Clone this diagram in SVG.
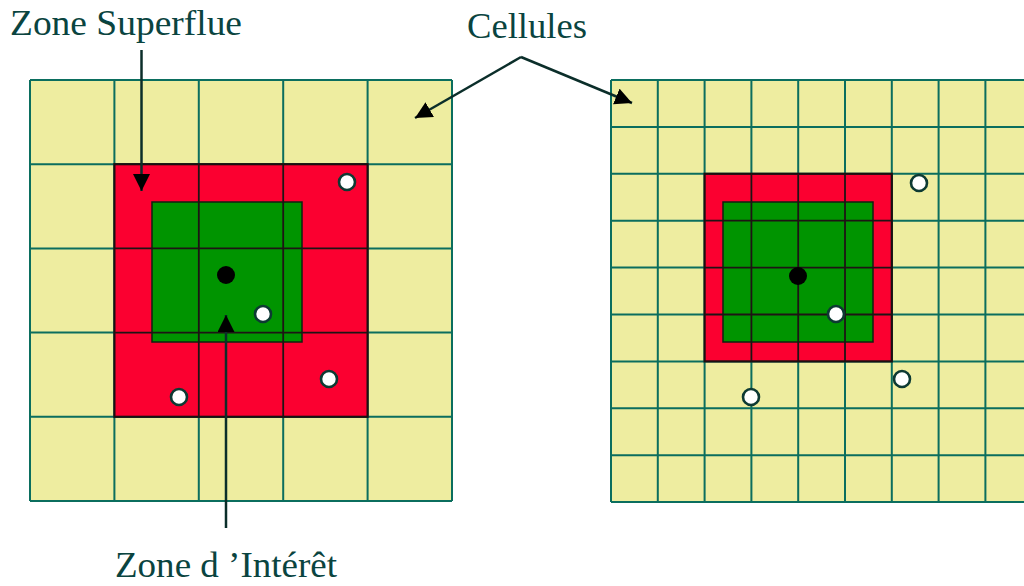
<svg xmlns="http://www.w3.org/2000/svg" width="1024" height="586" viewBox="0 0 1024 586">
  <style>
    .cell { fill: #eeeda0; }
    .grid { fill: none; stroke: #0b6e5e; stroke-width: 2; }
    .gridDark { fill: none; stroke: #1e1414; stroke-width: 1.8; }
    .sup { fill: #fb0030; stroke: #1a1010; stroke-width: 2.2; }
    .int { fill: #009400; stroke: #102010; stroke-width: 1.5; }
    .pt { fill: #ffffff; stroke: #0d3a33; stroke-width: 2.6; }
    .ctr { fill: #000000; }
    .lbl { font-family: "Liberation Serif", "Times New Roman", serif; font-size: 35px; fill: #0a4440; }
    .conn { fill: none; stroke: #0b2e2a; stroke-width: 2.5; }
  </style>
  <defs>
    <marker id="arrow" viewBox="0 0 16 16" refX="16" refY="8" markerWidth="17" markerHeight="17" markerUnits="userSpaceOnUse" orient="auto">
      <path d="M0,0 L16,8 L0,16 z" fill="#000000"/>
    </marker>
    <clipPath id="clipL"><rect x="114.4" y="164.2" width="253.2" height="252.6"/></clipPath>
    <clipPath id="clipR"><rect x="704.6" y="173.8" width="187.2" height="187.6"/></clipPath>
  </defs>
  <rect width="1024" height="586" fill="#ffffff"/>

  <g id="left-grid">
    <rect class="cell" x="30" y="80" width="422" height="421"/>
    <path class="grid" d="M30,80V501M114.4,80V501M198.8,80V501M283.2,80V501M367.6,80V501M452,80V501M30,80H452M30,164.2H452M30,248.4H452M30,332.6H452M30,416.8H452M30,501H452"/>
    <rect class="sup" x="114.4" y="164.2" width="253.2" height="252.6"/>
    <rect class="int" x="152" y="202" width="150" height="140"/>
    <path class="gridDark" clip-path="url(#clipL)" d="M198.8,164V417M283.2,164V417M114,248.4H368M114,332.6H368"/>
    <circle class="ctr" cx="226" cy="275" r="9"/>
    <circle class="pt" cx="347" cy="182" r="8"/>
    <circle class="pt" cx="263" cy="314" r="8"/>
    <circle class="pt" cx="179" cy="397" r="8"/>
    <circle class="pt" cx="329" cy="379" r="8"/>
  </g>

  <g id="right-grid">
    <rect class="cell" x="611" y="80" width="413" height="422"/>
    <path class="grid" d="M611,80V502M657.8,80V502M704.6,80V502M751.4,80V502M798.2,80V502M845,80V502M891.8,80V502M938.6,80V502M985.4,80V502M611,80H1024M611,126.9H1024M611,173.8H1024M611,220.7H1024M611,267.6H1024M611,314.5H1024M611,361.4H1024M611,408.3H1024M611,455.2H1024M611,502H1024"/>
    <rect class="sup" x="704.6" y="173.8" width="187.2" height="187.6"/>
    <rect class="int" x="723" y="202" width="150" height="140"/>
    <path class="gridDark" clip-path="url(#clipR)" d="M751.4,173V362M798.2,173V362M845,173V362M704,220.7H892M704,267.6H892M704,314.5H892"/>
    <circle class="ctr" cx="798" cy="276" r="9"/>
    <circle class="pt" cx="919" cy="183" r="8"/>
    <circle class="pt" cx="836" cy="314" r="8"/>
    <circle class="pt" cx="902" cy="379" r="8"/>
    <circle class="pt" cx="751" cy="397" r="8"/>
  </g>

  <g id="connectors">
    <path class="conn" d="M141.5,50 L141.5,191" marker-end="url(#arrow)"/>
    <path class="conn" d="M226,528 L226,315" marker-end="url(#arrow)"/>
    <path class="conn" d="M521,57 L415,118" marker-end="url(#arrow)"/>
    <path class="conn" d="M521,57 L632,103" marker-end="url(#arrow)"/>
  </g>

  <g id="labels">
    <text id="label-superflue" class="lbl" x="10" y="35" textLength="232" lengthAdjust="spacingAndGlyphs">Zone Superflue</text>
    <text id="label-cellules" class="lbl" x="467" y="38" textLength="120" lengthAdjust="spacingAndGlyphs">Cellules</text>
    <text id="label-interet" class="lbl" x="115" y="577" textLength="222" lengthAdjust="spacingAndGlyphs">Zone d ’Intérêt</text>
  </g>
</svg>
